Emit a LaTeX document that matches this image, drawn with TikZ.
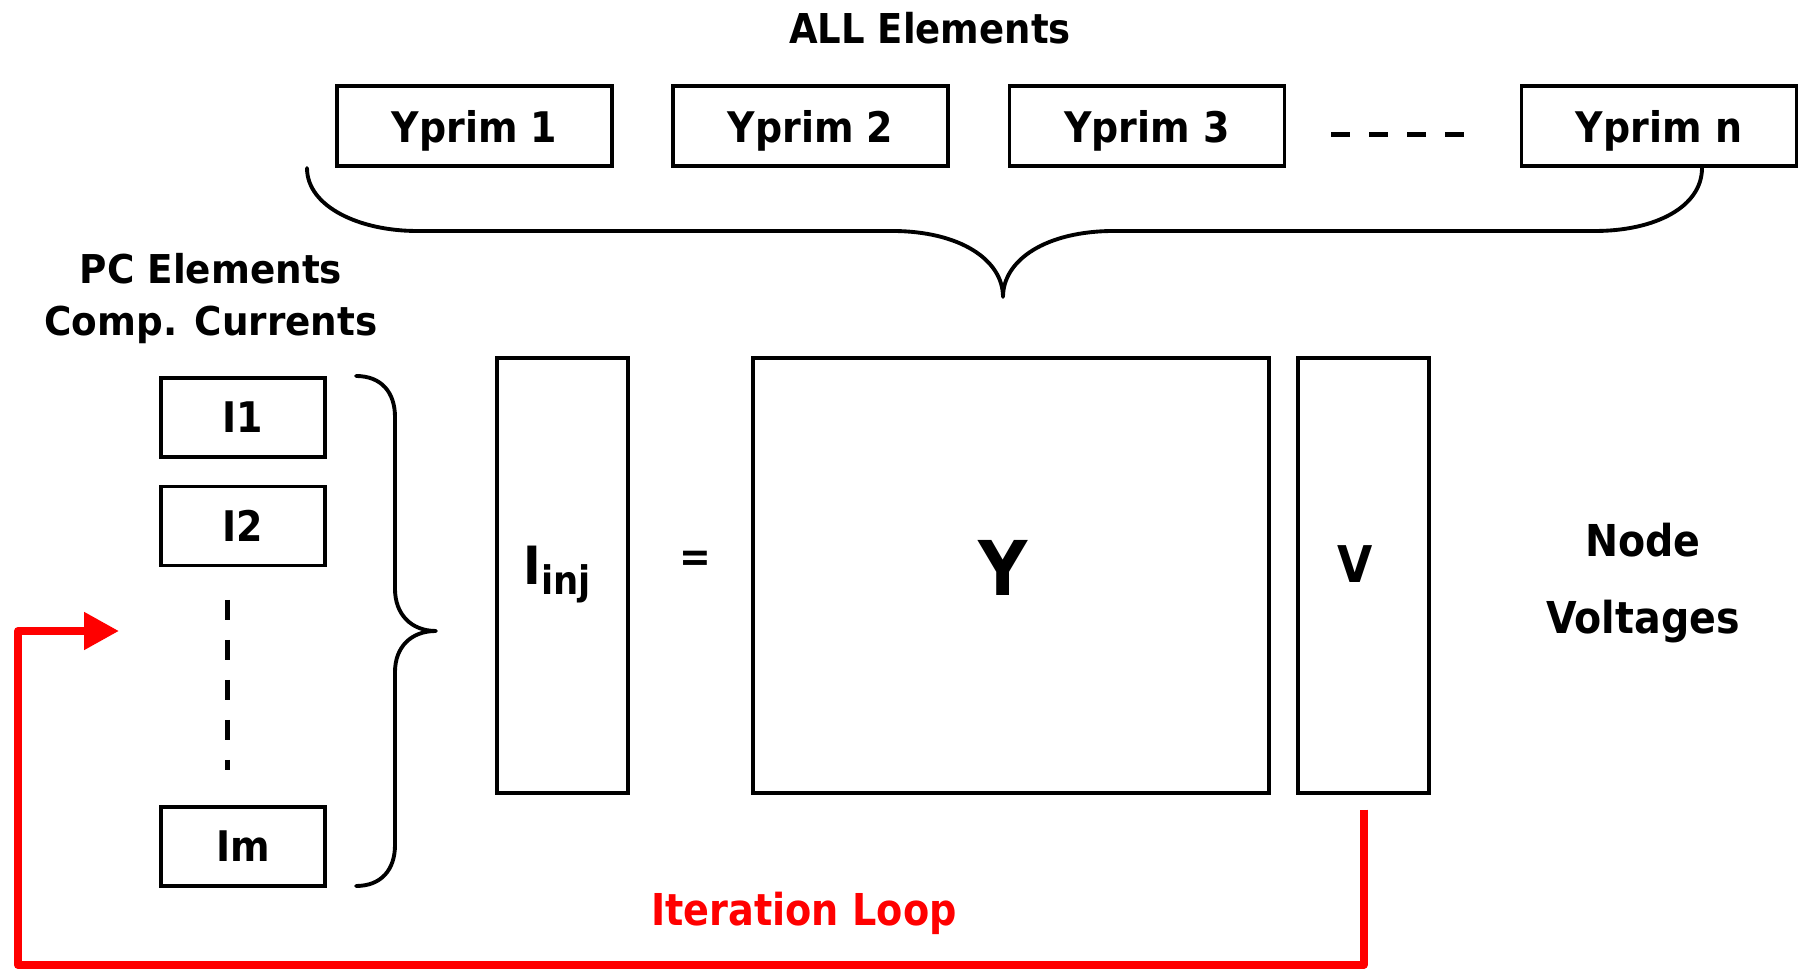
\documentclass[tikz,border=0pt]{standalone}
\usepackage{fontspec}
\setmainfont{DejaVu Sans}
\newfontfamily\lbl[FakeStretch=0.9]{DejaVu Sans}
\newfontfamily\lblw[FakeStretch=0.94]{DejaVu Sans}
\newfontfamily\lbln[FakeStretch=0.87]{DejaVu Sans}
\usetikzlibrary{arrows.meta}
\definecolor{loopred}{RGB}{255,0,0}
\newcommand{\fs}[1]{\lbl\bfseries\fontsize{#1}{#1}\selectfont}
\newcommand{\fsw}[1]{\lblw\bfseries\fontsize{#1}{#1}\selectfont}
\newcommand{\fsn}[1]{\lbln\bfseries\fontsize{#1}{#1}\selectfont}
\begin{document}
\begin{tikzpicture}[x=0.1mm,y=-0.1mm,
  box/.style={draw, line width=1pt, inner sep=0pt, text depth=0pt},
  ybox/.style={box, minimum width=27.5mm, minimum height=8mm, font=\fs{12}},
  ibox/.style={box, minimum width=16.4mm, minimum height=7.9mm, font=\fs{12}},
  mbox/.style={box, minimum height=43.5mm},
  lab/.style={inner sep=0pt, anchor=base},
  brace/.style={line width=1.1pt, line cap=round, line join=round},
  dotline/.style={line width=0.5mm, dash pattern=on 1.9mm off 1.9mm},
  loopline/.style={draw=loopred, line width=0.8mm, line join=round, -{Triangle[length=3.5mm,width=3.6mm]}}
]
\useasboundingbox (0,0) rectangle (1805,970);

% top row
\node[lab, font=\fs{11.7}] (all) at (930,44) {ALL Elements};
\node[ybox] (y1) at (474.5,126) {Yprim 1};
\node[ybox] (y2) at (810.5,126) {Yprim 2};
\node[ybox] (y3) at (1147,126) {Yprim 3};
\node[ybox] (yn) at (1659,126) {Yprim n};
\coordinate (da) at (1331,135);
\coordinate (db) at (1464,135);
\draw[dotline] (da) -- (db);

% top brace
\draw[brace] (307,168) .. controls (307,207) and (360,231) .. (417,231) -- (892,231)
  .. controls (960,231) and (1003,260) .. (1003,297)
  .. controls (1003,260) and (1046,231) .. (1114,231) -- (1595,231)
  .. controls (1655,231) and (1702,207) .. (1702,168);

% PC elements
\node[lab, font=\fsw{11.3}] (pc) at (211,284) {PC Elements};
\node[lab, font=\fsw{11.3}] (cc) at (211,336) {Comp. Currents};
\node[ibox] (i1) at (243,417.5) {I1};
\node[ibox] (i2) at (243,526) {I2};
\node[ibox] (im) at (243,846.5) {Im};
\coordinate (va) at (227,600);
\coordinate (vb) at (227,770);
\draw[line width=0.5mm, dash pattern=on 2mm off 2mm] (va) -- (vb);

% right brace of I boxes
\draw[brace] (356,376) .. controls (381,376) and (395,392) .. (395,417) -- (395,589)
  .. controls (395,614) and (411,631) .. (436,631)
  .. controls (411,631) and (395,647) .. (395,672) -- (395,845)
  .. controls (395,870) and (381,886) .. (356,886);

% matrices
\node[mbox, minimum width=13.1mm] (iinj) at (562.5,575.5) {};
\node[mbox, minimum width=51.6mm] (ymat) at (1011,575.5) {};
\node[mbox, minimum width=13.1mm] (v) at (1363.5,575.5) {};
\node[lab, anchor=base west, font=\fs{15}] (ilab) at (523,585) {I\raisebox{-2.8pt}{\fs{11.2}inj}};
\node[font=\fs{12}, inner sep=0pt] (eq) at (695,561) {=};
\node[lab, font=\fs{21.5}] (ylab) at (1003,596) {Y};
\node[lab, font=\fs{14.4}] (vlab) at (1355,583) {V};
\node[lab, font=\fs{12.5}] (node) at (1643,557) {Node};
\node[lab, font=\fs{12.5}] (volt) at (1643,634) {Voltages};

% iteration loop
\node[lab, font=\fsn{12.5}, text=loopred] (iter) at (804,926) {Iteration Loop};
\coordinate (lb) at (18,965);
\coordinate (tip) at (119,631);
\draw[loopline] ([yshift=-1.5mm]v.south) |- (lb) |- (tip);
\end{tikzpicture}
\end{document}
